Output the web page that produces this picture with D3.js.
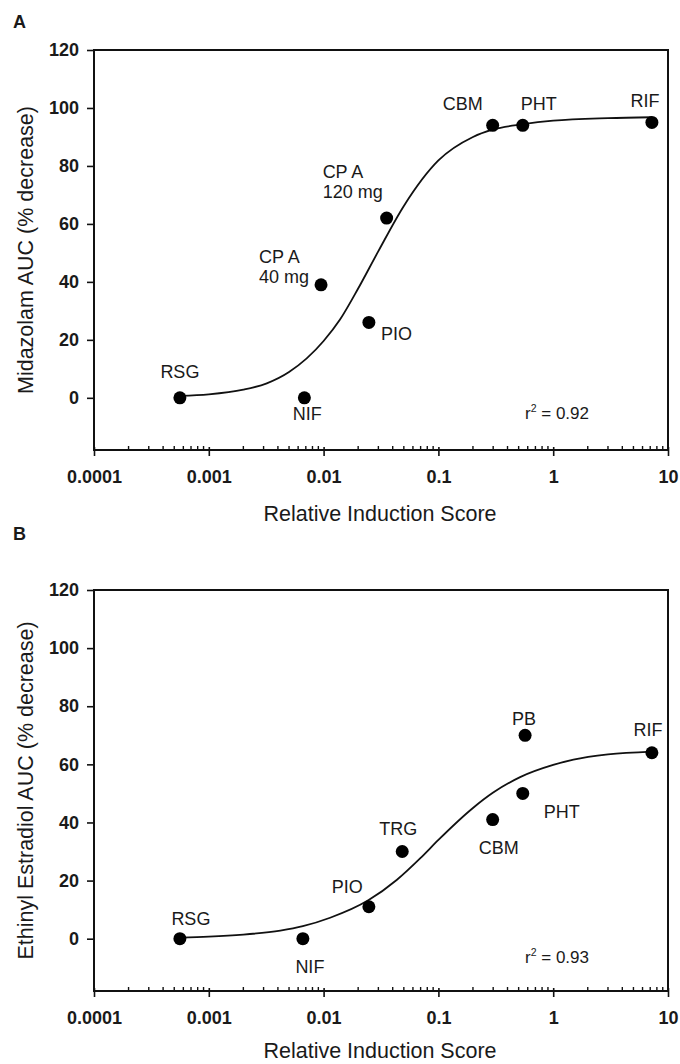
<!DOCTYPE html>
<html>
<head>
<meta charset="utf-8">
<script src="https://cdn.jsdelivr.net/npm/d3@7"></script>
<style>
    body { margin: 0; background: #fff; }
    svg text { font-family: "Liberation Sans", Arial, sans-serif; fill: #1a1a1a; }
</style>
</head>
<body>
<div id="chart"></div>
<script>
// Axis values shared by both panels
const xTickValues = [0.0001, 0.001, 0.01, 0.1, 1, 10];
const xTickLabels = ["0.0001", "0.001", "0.01", "0.1", "1", "10"];
const yTickValues = [0, 20, 40, 60, 80, 100, 120];

// Panel A: midazolam
const drugsA = ["RSG", "NIF", "CP A 40 mg", "PIO", "CP A 120 mg", "CBM", "PHT", "RIF"];
const scoresA = [0.00056, 0.0068, 0.0095, 0.0248, 0.0354, 0.297, 0.543, 7.24];
const midazolamDecrease = [0, 0, 39, 26, 62, 94, 94, 95];
// Fitted curve
const fitScoresA = [0.00056, 0.001, 0.002, 0.0032, 0.005, 0.01, 0.0139, 0.02, 0.03, 0.05, 0.1, 0.2, 0.3, 0.55, 1, 3, 7.24];
const fitMidazolam = [0.7, 1.2, 2.8, 5.0, 8.9, 19.6, 27, 37.7, 50.6, 66.2, 81.9, 90.0, 92.6, 94.4, 95.6, 96.5, 96.8];
const rSquaredA = "0.92";

// Panel B: ethinyl estradiol
const drugsB = ["RSG", "NIF", "PIO", "TRG", "CBM", "PHT", "PB", "RIF"];
const scoresB = [0.00056, 0.0066, 0.0248, 0.0484, 0.297, 0.543, 0.569, 7.24];
const estradiolDecrease = [0, 0, 11, 30, 41, 50, 70, 64];
const fitScoresB = [0.00056, 0.001, 0.002, 0.0042, 0.0066, 0.0114, 0.0245, 0.0433, 0.07, 0.1, 0.2, 0.3, 0.515, 1, 1.5, 3, 7.24];
const fitEstradiol = [0.4, 0.7, 1.4, 2.8, 4.3, 7.2, 13.2, 20.2, 27.8, 34, 45, 50.3, 55.6, 59.8, 61.6, 63.4, 64.4];
const rSquaredB = "0.93";

let width = 680, height = 1064;
let plotLeft = 94, plotRight = 668;
let fontStack = "Liberation Sans, Arial, sans-serif";

let svg = d3.select("#chart")
    .append("svg")
    .attr("width", width)
    .attr("height", height);

// Where each point label sits relative to its dot: [dx, dy of first baseline, anchor]
let labelPlacementA = {
    "RSG": [0, -20, "middle"],
    "NIF": [3, 22, "middle"],
    "CP A 40 mg": [-62, -22, "start"],
    "PIO": [12, 18, "start"],
    "CP A 120 mg": [-64, -40, "start"],
    "CBM": [-30, -15, "middle"],
    "PHT": [16, -15, "middle"],
    "RIF": [-7, -15, "middle"]
};
let labelPlacementB = {
    "RSG": [11, -14, "middle"],
    "NIF": [7, 34, "middle"],
    "PIO": [-6, -14, "end"],
    "TRG": [-4, -17, "middle"],
    "CBM": [6, 34, "middle"],
    "PHT": [21, 25, "start"],
    "PB": [-1, -10, "middle"],
    "RIF": [-4, -17, "middle"]
};

drawPanel({
    letter: "A", letterY: 28, top: 50, bottom: 450, xTitleGap: 71,
    yTitle: "Midazolam AUC (% decrease)",
    drugs: drugsA, xs: scoresA, ys: midazolamDecrease,
    fitX: fitScoresA, fitY: fitMidazolam,
    r2: rSquaredA, r2Y: 21, placement: labelPlacementA
});
drawPanel({
    letter: "B", letterY: 540, top: 590, bottom: 991, xTitleGap: 67,
    yTitle: "Ethinyl Estradiol AUC (% decrease)",
    drugs: drugsB, xs: scoresB, ys: estradiolDecrease,
    fitX: fitScoresB, fitY: fitEstradiol,
    r2: rSquaredB, r2Y: 24, placement: labelPlacementB
});

/**
 * Draws one panel: frame, log x axis, y axis, fitted curve, dots and labels.
 *
 * @param {object} p The panel settings and its data arrays.
 */
function drawPanel(p) {
    let x = d3.scaleLog().domain([0.0001, 10]).range([plotLeft, plotRight]);
    let y = d3.scaleLinear().domain([-18, 120]).range([p.bottom, p.top]);
    let g = svg.append("g");

    g.append("text")
        .attr("x", 13).attr("y", p.letterY)
        .style("font-size", "18px").style("font-weight", "bold")
        .text(p.letter);

    // Y axis with outward ticks
    let yAxis = g.append("g")
        .attr("transform", "translate(" + plotLeft + ",0)")
        .call(d3.axisLeft(y).tickValues(yTickValues).tickSize(7).tickPadding(8));
    yAxis.select(".domain").remove();
    yAxis.selectAll(".tick line").attr("stroke", "#111").attr("stroke-width", 1.6);
    yAxis.selectAll(".tick text")
        .style("font-size", "18px").style("font-weight", "bold")
        .style("font-family", fontStack).attr("fill", "#1a1a1a");

    // X axis: major ticks cross the line, minor ticks point inward
    let xAxis = g.append("g")
        .attr("transform", "translate(0," + p.bottom + ")")
        .call(d3.axisBottom(x).tickValues(xTickValues)
            .tickFormat(function(d, i) { return xTickLabels[i]; })
            .tickSize(6).tickPadding(14));
    xAxis.select(".domain").remove();
    xAxis.selectAll(".tick line").attr("y1", -3).attr("stroke", "#111").attr("stroke-width", 1.6);
    xAxis.selectAll(".tick text")
        .style("font-size", "18px").style("font-weight", "bold")
        .style("font-family", fontStack).attr("fill", "#1a1a1a");

    let minorTicks = [];
    xTickValues.slice(0, -1).forEach(function(decade) {
        for (let m = 2; m <= 9; m++) {
            minorTicks.push(decade * m);
        }
    });
    g.selectAll("line.minor")
        .data(minorTicks)
        .enter()
        .append("line")
            .attr("class", "minor")
            .attr("x1", function(d) { return x(d); })
            .attr("x2", function(d) { return x(d); })
            .attr("y1", p.bottom)
            .attr("y2", p.bottom - 4)
            .attr("stroke", "#111")
            .attr("stroke-width", 1.4);

    // Frame
    g.append("rect")
        .attr("x", plotLeft).attr("y", p.top)
        .attr("width", plotRight - plotLeft).attr("height", p.bottom - p.top)
        .attr("fill", "none").attr("stroke", "#111").attr("stroke-width", 2);

    g.append("text")
        .attr("x", (plotLeft + plotRight) / 2 - 1).attr("y", p.bottom + p.xTitleGap)
        .attr("text-anchor", "middle")
        .style("font-size", "21.5px")
        .text("Relative Induction Score");

    g.append("text")
        .attr("transform", "translate(33," + (p.top + p.bottom) / 2 + ") rotate(-90)")
        .attr("text-anchor", "middle")
        .style("font-size", "21.5px")
        .text(p.yTitle);

    // Fitted curve
    let fit = p.fitX.map(function(d, i) { return [d, p.fitY[i]]; });
    g.append("path")
        .datum(fit)
        .attr("fill", "none")
        .attr("stroke", "#111")
        .attr("stroke-width", 1.8)
        .attr("d", d3.line()
            .x(function(d) { return x(d[0]); })
            .y(function(d) { return y(d[1]); })
            .curve(d3.curveMonotoneX));

    let points = p.drugs.map(function(d, i) {
        return {name: d, score: p.xs[i], value: p.ys[i]};
    });
    g.selectAll("circle.point")
        .data(points)
        .enter()
        .append("circle")
            .attr("class", "point")
            .attr("cx", function(d) { return x(d.score); })
            .attr("cy", function(d) { return y(d.value); })
            .attr("r", 6.5)
            .attr("fill", "#000");

    // Labels; the "CP A" labels are split over two lines
    points.forEach(function(d) {
        let place = p.placement[d.name];
        let lines = d.name.indexOf("CP A") === 0 ? ["CP A", d.name.slice(5)] : [d.name];
        let t = g.append("text")
            .attr("x", x(d.score) + place[0])
            .attr("y", y(d.value) + place[1])
            .attr("text-anchor", place[2])
            .style("font-size", "18px");
        lines.forEach(function(line, i) {
            t.append("tspan")
                .attr("x", x(d.score) + place[0])
                .attr("dy", i === 0 ? 0 : 20)
                .text(line);
        });
    });

    let r2 = g.append("text")
        .attr("x", 525).attr("y", y(0) + p.r2Y)
        .style("font-size", "17px");
    r2.append("tspan").text("r");
    r2.append("tspan").attr("dy", -7).style("font-size", "10.5px").text("2");
    r2.append("tspan").attr("dy", 7).text(" = " + p.r2);
}
</script>
</body>
</html>
